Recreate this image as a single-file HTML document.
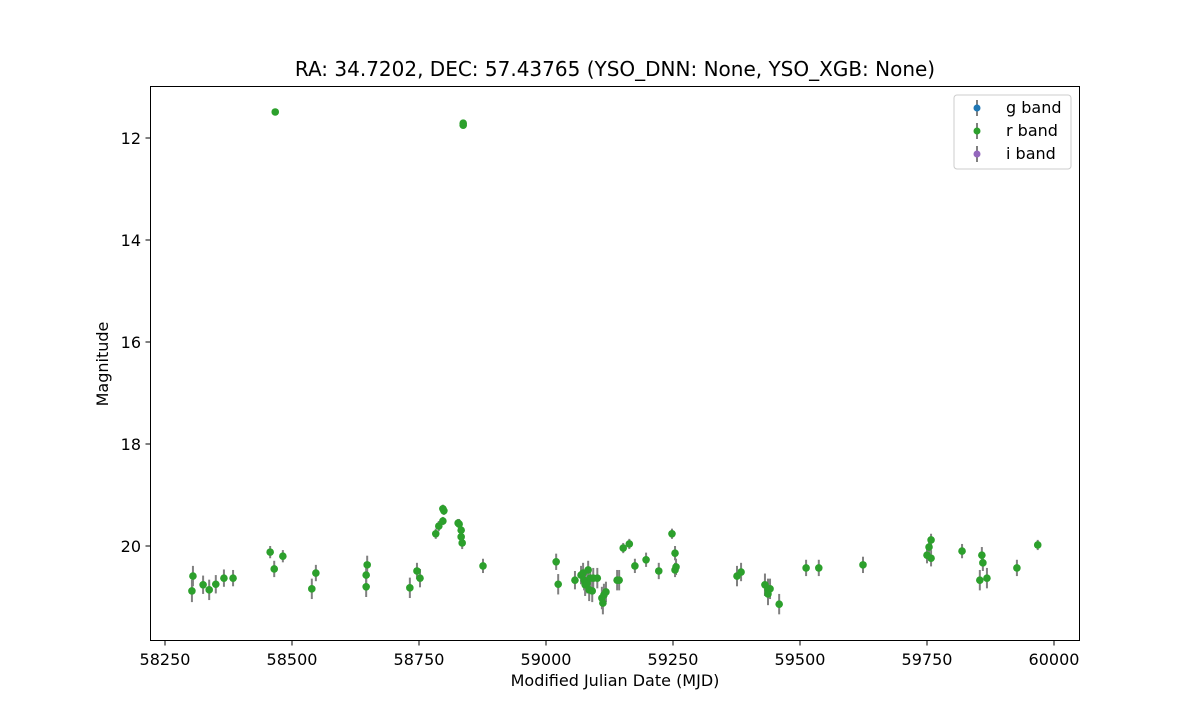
<!DOCTYPE html>
<html><head><meta charset="utf-8"><style>
body{margin:0;background:#fff;}
svg text{font-family:"DejaVu Sans","Liberation Sans",sans-serif;fill:#000;}
</style></head><body>
<svg id="chart" width="1200" height="720" xmlns="http://www.w3.org/2000/svg">
<rect width="1200" height="720" fill="#fff"/>
<text x="615" y="76" font-size="20" text-anchor="middle">RA: 34.7202, DEC: 57.43765 (YSO_DNN: None, YSO_XGB: None)</text>
<g id="marks"></g>
<rect x="150.5" y="86.5" width="929" height="554" fill="none" stroke="#000" stroke-width="1"/>
<g id="xticks"></g>
<g id="yticks"></g>
<text x="615" y="686" font-size="16" text-anchor="middle">Modified Julian Date (MJD)</text>
<text transform="translate(108,364) rotate(-90)" font-size="16" text-anchor="middle">Magnitude</text>
<g>
<rect x="954" y="95" width="117" height="74" rx="3" fill="#fff" stroke="#ccc"/>
<g><line x1="977" y1="100" x2="977" y2="116" stroke="#808080" stroke-width="2"/><circle cx="977" cy="108" r="3.5" fill="#1f77b4"/><text x="1006" y="113" font-size="16">g band</text></g>
<g><line x1="977" y1="123" x2="977" y2="139" stroke="#808080" stroke-width="2"/><circle cx="977" cy="131" r="3.5" fill="#2ca02c"/><text x="1006" y="136" font-size="16">r band</text></g>
<g><line x1="977" y1="146" x2="977" y2="162" stroke="#808080" stroke-width="2"/><circle cx="977" cy="154" r="3.5" fill="#9467bd"/><text x="1006" y="159" font-size="16">i band</text></g>
</g>
</svg>
<script>
const rMjd = [58303,58305,58325,58337,58350,58366,58384,58457,58465,58482,58539,58547,58648,58646,58646,58732,58746,58752,58783,58789,58797,58797,58799,58827,58829,58833,58833,58835,58876,58467,58837,58837,
59020,59024,59057,59069,59073,59075,59077,59081,59083,59085,59087,59091,59093,59101,59110,59112,59114,59118,59140,59144,59152,59164,59175,59197,59222,59248,59254,59254,59256,
59376,59384,59431,59437,59437,59441,59459,59512,59537,59624,59750,59754,59758,59758,59819,59854,59858,59860,59868,59927,59968];
const rMag = [20.88,20.59,20.76,20.86,20.75,20.63,20.63,20.12,20.45,20.20,20.84,20.53,20.37,20.57,20.80,20.82,20.49,20.63,19.76,19.61,19.27,19.51,19.31,19.55,19.57,19.69,19.82,19.94,20.39,11.49,11.71,11.75,
20.31,20.75,20.67,20.57,20.53,20.67,20.76,20.73,20.47,20.86,20.63,20.88,20.63,20.63,21.02,21.12,20.96,20.90,20.67,20.67,20.04,19.96,20.39,20.27,20.49,19.76,20.14,20.47,20.41,
20.59,20.51,20.76,20.86,20.94,20.84,21.14,20.43,20.43,20.37,20.18,20.02,20.24,19.88,20.10,20.67,20.18,20.33,20.63,20.43,19.98];
const rErr = [0.22,0.2,0.18,0.2,0.18,0.17,0.16,0.12,0.16,0.12,0.2,0.16,0.18,0.18,0.2,0.2,0.16,0.18,0.1,0.1,0.08,0.08,0.08,0.08,0.1,0.1,0.12,0.12,0.14,0.03,0.05,0.05,
0.16,0.2,0.18,0.18,0.2,0.2,0.22,0.2,0.18,0.22,0.2,0.22,0.2,0.2,0.22,0.22,0.22,0.2,0.2,0.2,0.1,0.1,0.14,0.14,0.16,0.1,0.14,0.14,0.16,
0.2,0.18,0.22,0.22,0.22,0.2,0.2,0.16,0.16,0.16,0.16,0.14,0.16,0.12,0.14,0.2,0.16,0.16,0.2,0.16,0.1];
const xTicks = [58250,58500,58750,59000,59250,59500,59750,60000];
const yTicks = [12,14,16,18,20];
const xS = m => 165 + (m - 58250) * 0.508;
const yS = v => 138 + (v - 12) * 51;
const NS = "http://www.w3.org/2000/svg";
function mk(tag, attrs){const e=document.createElementNS(NS,tag);for(const k in attrs)e.setAttribute(k,attrs[k]);return e;}
const marks=document.getElementById('marks');
rMjd.forEach((m,i)=>{
  const x=xS(m);
  const l=mk('line',{x1:x,x2:x,y1:yS(rMag[i]-rErr[i]),y2:yS(rMag[i]+rErr[i]),stroke:'#808080','stroke-width':2});
  
  
  marks.appendChild(l);
});
rMjd.forEach((m,i)=>{
  const c=mk('circle',{cx:xS(m),cy:yS(rMag[i]),r:3.8,fill:'#2ca02c'});
  
  
  marks.appendChild(c);
});
const xt=document.getElementById('xticks');
xTicks.forEach(t=>{
  const x=xS(t);
  const l=mk('line',{x1:x,x2:x,y1:641,y2:645.5,stroke:'#000'});
  
  
  xt.appendChild(l);
  const tx=mk('text',{x:x,y:665,'font-size':16,'text-anchor':'middle'});
  
  
  tx.textContent=t;
  xt.appendChild(tx);
});
const yt=document.getElementById('yticks');
yTicks.forEach(t=>{
  const y=yS(t);
  const l=mk('line',{x1:145.5,x2:150,y1:y,y2:y,stroke:'#000'});
  
  
  yt.appendChild(l);
  const tx=mk('text',{x:141,y:y+6,'font-size':16,'text-anchor':'end'});
  
  
  tx.textContent=t;
  yt.appendChild(tx);
});
</script>
</body></html>
